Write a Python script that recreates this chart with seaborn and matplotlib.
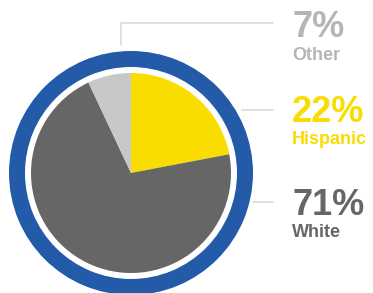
import matplotlib
matplotlib.use("Agg")
import matplotlib.pyplot as plt
import seaborn as sns
from matplotlib.patches import Wedge

# Data
groups = ["Hispanic", "White", "Other"]
shares = [22, 71, 7]
colors = ["#f9dc00", "#666666", "#c8c8c8"]
text_colors = ["#f9dc00", "#666666", "#b5b5b5"]

sns.set_style("white")
plt.rcParams["font.family"] = ["Liberation Sans", "DejaVu Sans"]

fig = plt.figure(figsize=(3.73, 2.93), dpi=100)
ax = fig.add_axes([0, 0, 1, 1])
ax.set_xlim(0, 373)
ax.set_ylim(0, 293)
ax.set_aspect("equal")
ax.axis("off")

cx, cy = 131, 120

# pie, clockwise from 12 o'clock
ax.pie(shares, colors=colors, startangle=90, counterclock=False,
       center=(cx, cy), radius=100, frame=True,
       wedgeprops=dict(linewidth=0))
ax.set_xlim(0, 373)
ax.set_ylim(0, 293)
ax.axis("off")

# blue ring
ax.add_patch(Wedge((cx, cy), 122, 0, 360, width=16, color="#235ba8", lw=0))

# leader lines
lc = "#d9d9d9"
ax.plot([121, 121, 273], [248, 270, 270], color=lc, lw=1.2)
ax.plot([242, 273], [183, 183], color=lc, lw=1.2)
ax.plot([253, 273], [91, 91], color=lc, lw=1.2)

# labels
label_y = {"Other": (256, 233), "Hispanic": (171, 149), "White": (78, 56)}
for g, s, tc in zip(groups, shares, text_colors):
    y1, y2 = label_y[g]
    ax.text(292, y1, f"{s}%", color=tc, fontsize=26, fontweight="bold",
            va="baseline", ha="left")
    ax.text(292, y2, g, color=tc, fontsize=13, fontweight="bold",
            va="baseline", ha="left")

fig.savefig("out.png", dpi=100)
